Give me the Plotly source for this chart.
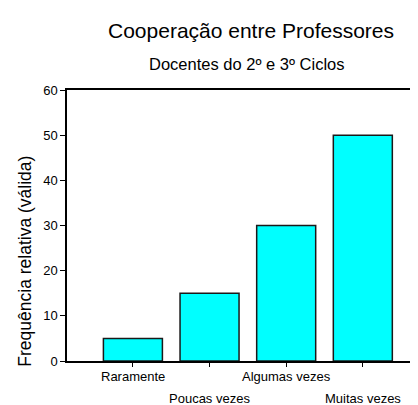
import plotly.graph_objects as go

categories = ["Raramente", "Poucas vezes", "Algumas vezes", "Muitas vezes"]
values = [5, 15, 30, 50]
y_ticks = [0, 10, 20, 30, 40, 50, 60]

FONT = "Liberation Sans, Arial, sans-serif"
OFF = 8  # default page body margin

fig = go.Figure()
fig.add_trace(go.Bar(
    x=categories, y=values,
    marker=dict(color="#00FFFF", line=dict(color="#1a1a1a", width=1.5)),
))

annotations = []
for i, c in enumerate(categories):
    annotations.append(dict(
        x=c, xref="x", y=0, yref="y", text=c, showarrow=False,
        yanchor="middle", xanchor="center",
        yshift=-15.5 if i % 2 == 0 else -37.5,
        font=dict(family=FONT, size=13, color="black"),
    ))
annotations.append(dict(
    text="Docentes do 2º e 3º Ciclos", xref="paper", yref="paper",
    x=(247 - 67) / 351, y=1 + (90 - 63.5) / 271.5, showarrow=False,
    xanchor="center", yanchor="middle",
    font=dict(family=FONT, size=16.5, color="black"),
))
annotations.append(dict(
    text="Frequência relativa (válida)", xref="paper", yref="paper",
    x=(25 - 67) / 351, y=(361.5 - 262) / 271.5, showarrow=False,
    xanchor="center", yanchor="middle", textangle=-90,
    font=dict(family=FONT, size=17.5, color="black"),
))

W, H = 418 - OFF, 405 - OFF
fig.update_layout(
    width=W, height=H,
    margin=dict(l=67 - OFF, r=0, t=90 - OFF, b=H - (361.5 - OFF), pad=0),
    paper_bgcolor="white", plot_bgcolor="white",
    bargap=0.23,
    showlegend=False,
    title=dict(text="Cooperação entre Professores", x=(251 - OFF) / W, xref="container",
               xanchor="center", y=1 - (31 - OFF) / H, yanchor="middle", yref="container",
               font=dict(family=FONT, size=21, color="black")),
    xaxis=dict(range=[-0.86, 3.72], showline=True, linecolor="black", linewidth=1.5,
               mirror=True, ticks="outside", ticklen=4, tickcolor="black",
               showticklabels=False, showgrid=False, zeroline=False),
    yaxis=dict(range=[0, 60], tickvals=y_ticks, showline=True, linecolor="black",
               linewidth=1.5, ticks="outside", ticklen=5, tickcolor="black",
               showgrid=False, zeroline=False,
               tickfont=dict(family=FONT, size=13, color="black")),
    annotations=annotations,
)

fig.write_html("out.html")
